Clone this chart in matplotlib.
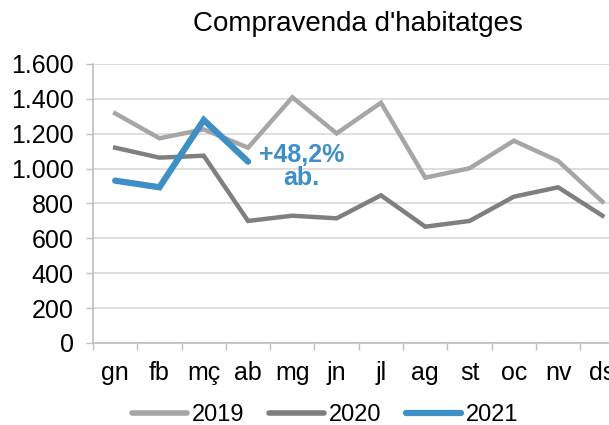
import matplotlib
matplotlib.use("Agg")
import matplotlib.pyplot as plt
from matplotlib.ticker import FuncFormatter
from matplotlib.lines import Line2D

months = ["gn", "fb", "mç", "ab", "mg", "jn", "jl", "ag", "st", "oc", "nv", "ds"]
v2019 = [1317, 1174, 1225, 1120, 1409, 1202, 1378, 948, 1002, 1160, 1044, 810]
v2020 = [1120, 1063, 1074, 700, 730, 715, 847, 667, 700, 839, 893, 730]
v2021 = [931, 893, 1279, 1040]
yticks = [0, 200, 400, 600, 800, 1000, 1200, 1400, 1600]

c19, c20, c21 = "#a6a6a6", "#7f7f7f", "#3d8fc6"
plt.rcParams['font.family'] = ['Liberation Sans', 'DejaVu Sans']

fig = plt.figure(figsize=(6.09, 4.25), dpi=100)
W, H = 609, 425
x0, x1 = 93, 93 + 12 * 44.3
y0, y1 = 343, 64
ax = fig.add_axes([x0 / W, 1 - y0 / H, (x1 - x0) / W, (y0 - y1) / H])

x = list(range(len(months)))
ax.plot(x, v2019, color=c19, lw=3.2, solid_joinstyle='miter', zorder=3)
ax.plot(x, v2020, color=c20, lw=3.2, solid_joinstyle='miter', zorder=3)
ax.plot(x[:len(v2021)], v2021, color=c21, lw=4.5, solid_capstyle='round',
        solid_joinstyle='miter', zorder=4)

ax.set_xlim(-0.5, 11.5)
ax.set_ylim(0, 1600)
ax.set_yticks(yticks)
ax.yaxis.set_major_formatter(FuncFormatter(lambda v, p: f"{int(v):,}".replace(",", ".")))
ax.set_xticks(x)
ax.set_xticklabels(months)
ax.set_xticks([i - 0.5 for i in range(13)], minor=True)
ax.tick_params(axis='x', which='major', length=0, pad=13, labelsize=18)
ax.tick_params(axis='x', which='minor', length=5, color='#bfbfbf', width=1)
ax.tick_params(axis='y', length=5, color='#bfbfbf', width=1, labelsize=18, pad=9)
ax.grid(axis='y', color='#d9d9d9', lw=1.2)
ax.set_axisbelow(True)
for s in ['top', 'right']:
    ax.spines[s].set_visible(False)
for s in ['left', 'bottom']:
    ax.spines[s].set_color('#bfbfbf')
    ax.spines[s].set_linewidth(1.2)

ax.text(4.2, 1010, "+48,2%\nab.", color=c21, fontsize=18, fontweight='bold',
        ha='center', va='center', linespacing=0.95)

fig.text(358 / W, 1 - 24 / H, "Compravenda d'habitatges", ha='center', va='center', fontsize=20)

handles = [Line2D([0], [0], color=c19, lw=4, solid_capstyle='round'),
           Line2D([0], [0], color=c20, lw=4, solid_capstyle='round'),
           Line2D([0], [0], color=c21, lw=4.5, solid_capstyle='round')]
fig.legend(handles, ["2019", "2020", "2021"], loc='center', bbox_to_anchor=(325 / W, 1 - 415 / H),
           ncol=3, frameon=False, fontsize=17, handlelength=2.33, handletextpad=0.2,
           columnspacing=1.05, borderpad=0, borderaxespad=0)

fig.savefig("out.png", dpi=100)
